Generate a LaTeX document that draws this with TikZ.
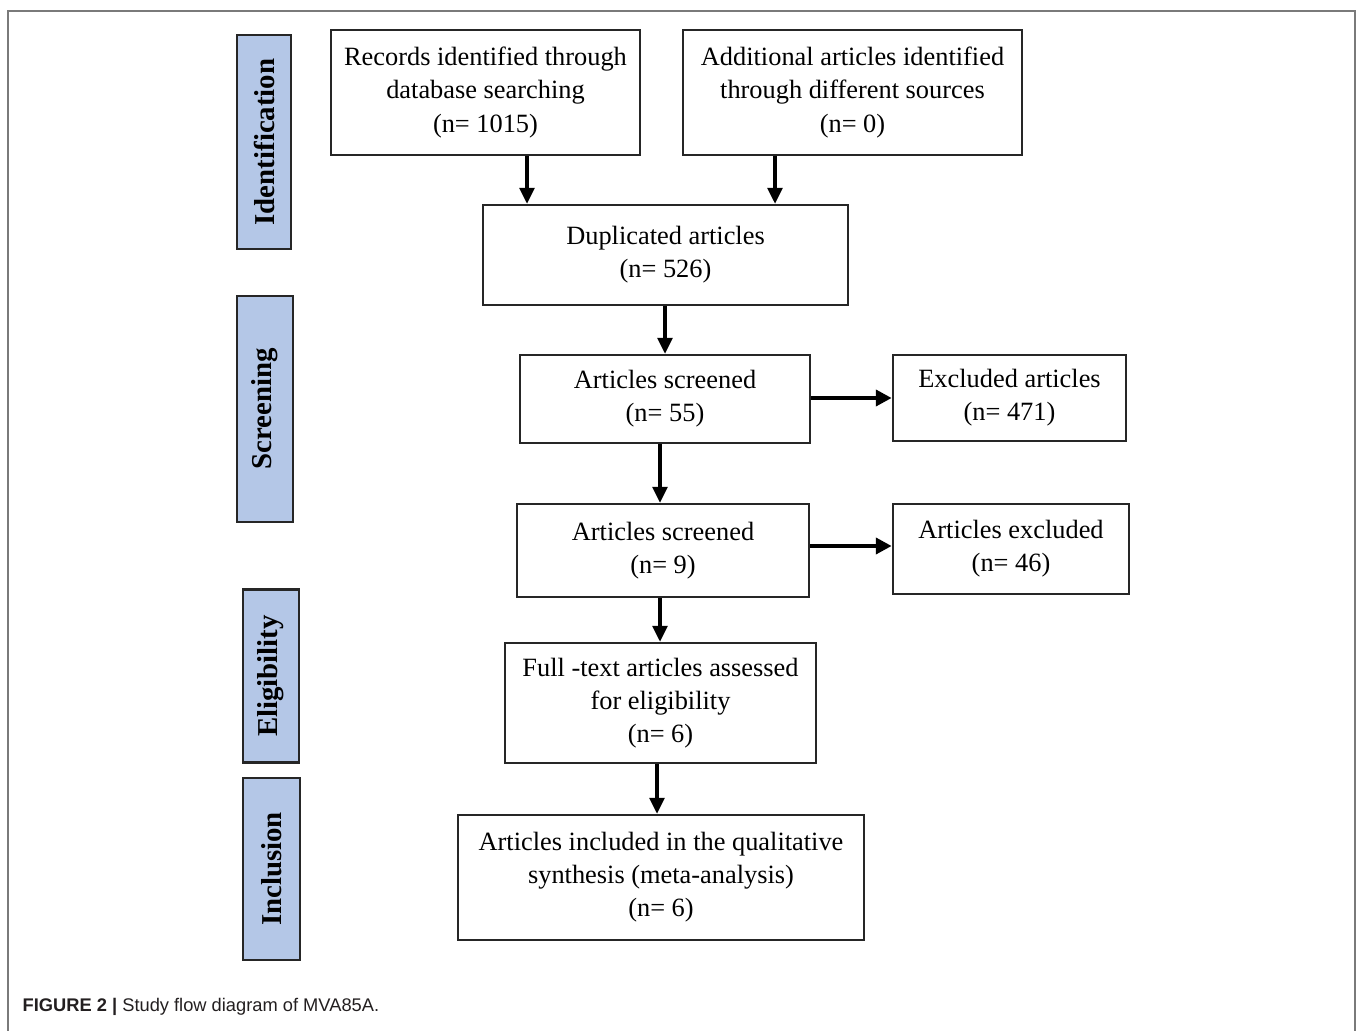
\documentclass[tikz,border=0pt]{standalone}
\usepackage{fontspec}
\setmainfont{Liberation Serif}
\newfontfamily\capfont{Liberation Sans}
\usetikzlibrary{arrows.meta}
\definecolor{sideblue}{HTML}{B4C7E7}
\definecolor{framegray}{HTML}{7A7A7A}
\definecolor{captxt}{HTML}{231F20}
\tikzset{
  flowbox/.style={draw=black!85, line width=0.7pt, fill=white, align=center, inner sep=0pt,
    font=\fontsize{7.5}{9.4}\selectfont},
  sidebox/.style={draw=black!85, line width=0.7pt, fill=sideblue, inner sep=0pt},
  sidetext/.style={inner sep=0pt, font=\fontsize{8.2}{9.6}\selectfont\bfseries},
  arr/.style={-{Triangle[length=4.5pt,width=4.2pt]}, line width=0.9pt},
  harr/.style={-{Triangle[length=4.5pt,width=4.5pt]}, line width=1.3pt},
}
\begin{document}
\begin{tikzpicture}[x=0.01cm,y=-0.01cm]
\useasboundingbox (0,0) rectangle (1358,1031);
% frame
\draw[framegray, line width=0.6pt] (8,1031) -- (8,11) -- (1355,11) -- (1355,1031);

% side labels
\node[sidebox, minimum width=0.54cm, minimum height=2.14cm] (sid) at (264,142) {};
\node[sidetext, rotate=90] (tid) at (sid.center) {Identification};
\node[sidebox, minimum width=0.56cm, minimum height=2.26cm] (sscr) at (265,409) {};
\node[sidetext, rotate=90] (tscr) at (sscr.center) {Screening};
\node[sidebox, minimum width=0.56cm, minimum height=1.73cm] (seli) at (271,676) {};
\node[sidetext, rotate=90] (teli) at (seli.center) {Eligibility};
\node[sidebox, minimum width=0.57cm, minimum height=1.82cm] (sinc) at (271.5,869) {};
\node[sidetext, rotate=90] (tinc) at (sinc.center) {Inclusion};

% flow boxes
\node[flowbox, minimum width=3.09cm, minimum height=1.25cm] (rec) at (485.5,92.5)
  {Records identified through\\database searching\\(n= 1015)};
\node[flowbox, minimum width=3.39cm, minimum height=1.25cm] (add) at (852.5,92.5)
  {Additional articles identified\\through different sources\\(n= 0)};
\node[flowbox, minimum width=3.65cm, minimum height=1.00cm] (dup) at (665.5,255)
  {Duplicated articles\\(n= 526)};
\node[flowbox, minimum width=2.90cm, minimum height=0.88cm] (scr1) at (665,399)
  {Articles screened\\(n= 55)};
\node[flowbox, minimum width=2.33cm, minimum height=0.86cm] (exc1) at (1009.5,398)
  {Excluded articles\\(n= 471)};
\node[flowbox, minimum width=2.92cm, minimum height=0.93cm] (scr2) at (663,550.5)
  {Articles screened\\(n= 9)};
\node[flowbox, minimum width=2.36cm, minimum height=0.90cm] (exc2) at (1011,549)
  {Articles excluded\\(n= 46)};
\node[flowbox, minimum width=3.11cm, minimum height=1.20cm] (full) at (660.5,703)
  {Full -text articles assessed\\for eligibility\\(n= 6)};
\node[flowbox, minimum width=4.06cm, minimum height=1.25cm] (inc) at (661,877.5)
  {Articles included in the qualitative\\synthesis (meta-analysis)\\(n= 6)};

% connector columns
\coordinate (c1) at (527,0);
\coordinate (c2) at (775,0);
\coordinate (c3) at (665,0);
\coordinate (c4) at (660,0);
\coordinate (c5) at (660,0);
\coordinate (c6) at (657,0);
\coordinate (r1) at (0,398);
\coordinate (r2) at (0,546);

\draw[arr] (rec.south -| c1) -- (dup.north -| c1);
\draw[arr] (add.south -| c2) -- (dup.north -| c2);
\draw[arr] (dup.south -| c3) -- (scr1.north -| c3);
\draw[arr] (scr1.south -| c4) -- (scr2.north -| c4);
\draw[arr] (scr2.south -| c5) -- (full.north -| c5);
\draw[arr] (full.south -| c6) -- (inc.north -| c6);
\draw[harr] (scr1.east |- r1) -- (exc1.west |- r1);
\draw[harr] (scr2.east |- r2) -- (exc2.west |- r2);

% caption
\node[anchor=base west, inner sep=0pt, text=captxt, font=\capfont\fontsize{5.2}{6}\selectfont] (cap) at (22,1011)
  {\textbf{FIGURE 2 |} Study flow diagram of MVA85A.};
\end{tikzpicture}
\end{document}
